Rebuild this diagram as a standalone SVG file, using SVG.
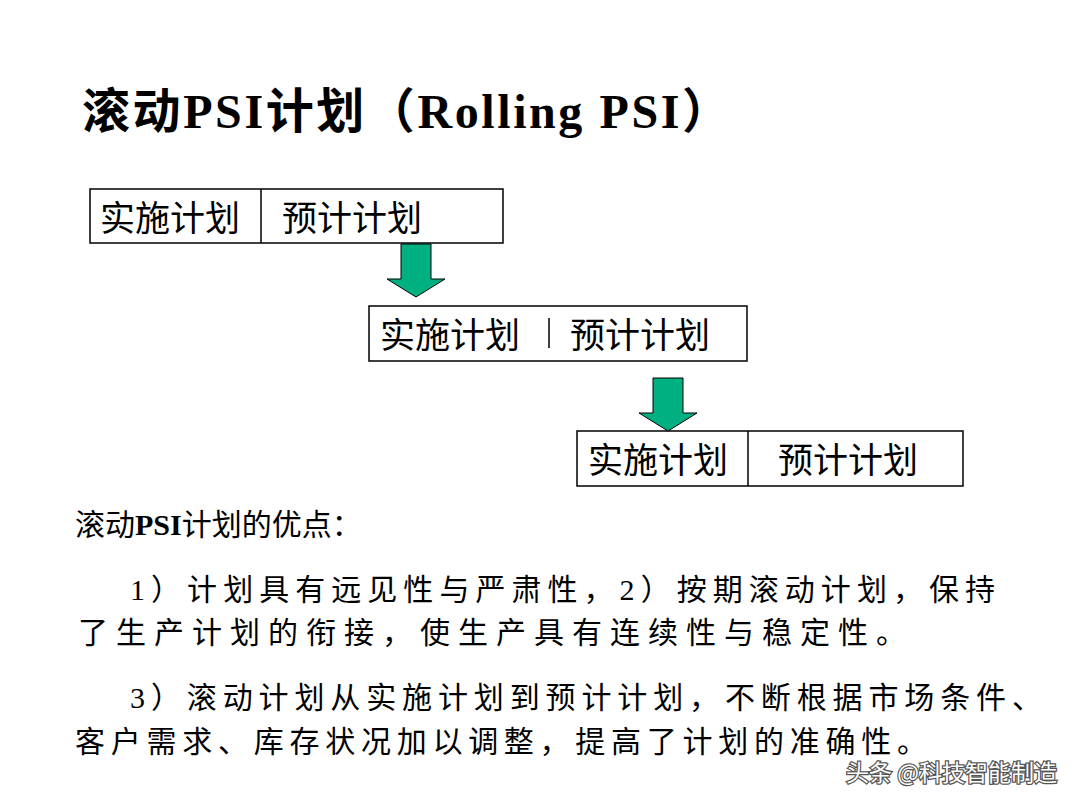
<svg xmlns="http://www.w3.org/2000/svg" width="1080" height="810" viewBox="0 0 1080 810">
<style>
.t{font-family:"Liberation Serif","Noto Sans CJK SC",serif;fill:#000}
.box{fill:#fff;stroke:#000;stroke-width:1.5}
.bt{font-family:"Liberation Serif","Noto Sans CJK SC",serif;font-size:35px;fill:#000}
.arr{fill:#00b080;stroke:#000;stroke-width:1}
</style>
<rect width="1080" height="810" fill="#fff"/>
<text class="t" x="82" y="128" font-size="48" font-weight="bold" textLength="648" lengthAdjust="spacing">滚动PSI计划（Rolling PSI）</text>
<g id="plan1"><rect class="box" x="90" y="189" width="413" height="54"/><line x1="261" y1="189" x2="261" y2="243" stroke="#000" stroke-width="1.5"/><text class="bt" x="100" y="231">实施计划</text><text class="bt" x="282" y="231">预计计划</text></g>
<g id="plan2"><rect class="box" x="369" y="306" width="378" height="55"/><line x1="549" y1="318" x2="549" y2="348" stroke="#000" stroke-width="1.5"/><text class="bt" x="380" y="348">实施计划</text><text class="bt" x="570" y="348">预计计划</text></g>
<g id="plan3"><rect class="box" x="577" y="431" width="386" height="55"/><line x1="748" y1="431" x2="748" y2="486" stroke="#000" stroke-width="1.5"/><text class="bt" x="588" y="473">实施计划</text><text class="bt" x="778" y="473">预计计划</text></g>
<g id="connectors">
<path class="arr" d="M401,244 H431 V279 H445 L416,297 L387,279 H401 Z"/>
<path class="arr" d="M653,378 H683 V413 H697 L668,431 L639,413 H653 Z"/>
</g>
<text class="t" x="75" y="535" font-size="30">滚动<tspan font-weight="bold">PSI</tspan>计划的优点：</text>
<text class="t" x="130" y="600" font-size="30" textLength="865" lengthAdjust="spacing">1）计划具有远见性与严肃性，2）按期滚动计划，保持</text>
<text class="t" x="78" y="643" font-size="30" textLength="828" lengthAdjust="spacing">了生产计划的衔接，使生产具有连续性与稳定性。</text>
<text class="t" x="130" y="708" font-size="30" textLength="912" lengthAdjust="spacing">3）滚动计划从实施计划到预计计划，不断根据市场条件、</text>
<text class="t" x="75" y="752" font-size="30" textLength="852" lengthAdjust="spacing">客户需求、库存状况加以调整，提高了计划的准确性。</text>
<text x="846" y="781" font-size="23" font-family="Noto Sans CJK SC,sans-serif" fill="#fff" stroke="#555" stroke-width="2.5" paint-order="stroke">头条 @科技智能制造</text>
</svg>
